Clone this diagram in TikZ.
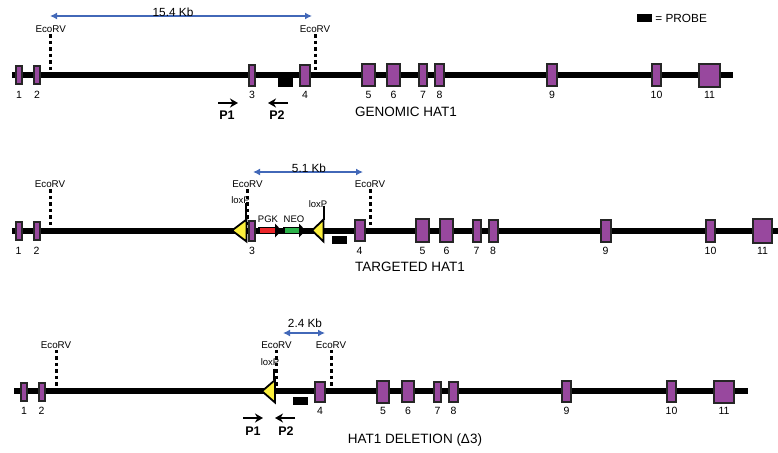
\documentclass[tikz,border=0pt]{standalone}
\usepackage{fontspec}
\setmainfont{Liberation Sans}
\usetikzlibrary{arrows.meta,positioning}
\definecolor{exonpurple}{RGB}{152,72,158}
\definecolor{kbblue}{RGB}{66,104,184}
\definecolor{loxyellow}{RGB}{252,240,60}
\definecolor{pgkred}{RGB}{236,38,42}
\definecolor{neogreen}{RGB}{44,178,74}
\tikzset{
  exon/.style={draw=black!85,line width=2pt,fill=exonpurple,inner sep=0pt},
  exnum/.style={inner sep=0pt,font=\fontsize{10.5}{12}\selectfont},
  dna/.style={line width=6pt},
  ecorv/.style={line width=3pt,dash pattern=on 3.5pt off 3pt},
  ecolab/.style={inner sep=0pt,font=\fontsize{9.8}{11}\selectfont},
  kb/.style={kbblue,line width=1.4pt,{Latex[length=7pt,width=7pt]}-{Latex[length=7pt,width=7pt]}},
  kblab/.style={inner sep=0pt,font=\fontsize{11.8}{13}\selectfont},
  primer/.style={line width=2.2pt,-{Stealth[length=8pt,width=9pt,inset=2.5pt]}},
  primlab/.style={inner sep=0pt,font=\fontsize{12.5}{14}\selectfont\bfseries},
  probe/.style={fill=black,inner sep=0pt,minimum width=15pt,minimum height=8pt},
  lox/.style={draw=black,line width=1.8pt,fill=loxyellow,line join=miter},
  loxtick/.style={line width=2pt},
  loxlab/.style={inner sep=0pt,font=\fontsize{9.5}{11}\selectfont},
  cassette/.style={draw=black,line width=1.2pt},
  rowtitle/.style={inner sep=0pt,font=\fontsize{13.5}{15}\selectfont},
}
\begin{document}
\begin{tikzpicture}[x=1pt,y=-1pt]
\useasboundingbox (0,0) rectangle (778,452);

\node[probe] (key) at (644.5,18) {};
\node[kblab,right=3pt of key] (keylab) {= PROBE};

\coordinate (gL) at (12,75);
\coordinate (gR) at (733,75);
\draw[dna] (gL) -- (gR);
\foreach \x [count=\i] in {50.7,315}
{
  \node[ecolab] (ge\i) at (\x,29.5) {EcoRV};
  \draw[ecorv] ([yshift=-1pt]ge\i.south) -- (\x,72);
}
\foreach \n/\x/\w/\h in {1/19/8/20,2/37/8/20,3/252/8/23,4/305/12/23,5/368.5/15/24,6/393.5/15/24,7/423/10/24,8/439.5/11/24,9/552/12/24,10/656.5/11/24,11/709.5/23/25}
{
  \node[exon,minimum width=\w-2,minimum height=\h-2] (g\n) at (\x,75) {};
  \node[exnum] (gn\n) at (\x,94.5) {\n};
}
\node[probe,minimum height=11pt] (gpr) at (285.5,81.5) {};
\coordinate (gk1) at (50,16);
\coordinate (gk2) at (312,16);
\draw[kb] (gk1) -- (gk2);
\node[kblab,anchor=base] (gkb) at (173,16.5) {15.4 Kb};
\coordinate (gp1a) at (218,103);
\coordinate (gp1b) at (238,103);
\coordinate (gp2a) at (288,103);
\coordinate (gp2b) at (268,103);
\draw[primer] (gp1a) -- (gp1b);
\draw[primer] (gp2a) -- (gp2b);
\node[primlab] (gP1) at (227,115) {P1};
\node[primlab] (gP2) at (277,115) {P2};
\node[rowtitle] (gtitle) at (406,112) {GENOMIC HAT1};

\coordinate (tL) at (12,230.5);
\coordinate (tR) at (778,230.5);
\draw[dna] (tL) -- (tR);
\foreach \x [count=\i] in {50,247.5,370}
{
  \node[ecolab] (te\i) at (\x,183.7) {EcoRV};
  \draw[ecorv] ([yshift=-2pt]te\i.south) -- (\x,227);
}
\draw[lox] (246.5,219.5) -- (246.5,241.5) -- (232,230.5) -- cycle;
\draw[lox] (323.5,219.5) -- (323.5,241.5) -- (312,230.5) -- cycle;
\foreach \n/\x/\w/\h in {1/18.5/8/20,2/36.5/8/20,3/252/8/22,4/359.5/12/23,5/422.5/15/25,6/446.5/15/25,7/476.5/10/24,8/493/11/24,9/605.5/12/24,10/710.5/11/24,11/762.5/21/26}
{
  \node[exon,minimum width=\w-2,minimum height=\h-2] (t\n) at (\x,230.5) {};
  \node[exnum] (tn\n) at (\x,250.5) {\n};
}
\draw[cassette,fill=pgkred] (259,227.5) rectangle (275.5,233.5);
\fill (275,223.5) -- (281.5,230.5) -- (275,237.5) -- cycle;
\draw[cassette,fill=neogreen] (284,227.5) rectangle (299.5,233.5);
\fill (299,223.5) -- (305.5,230.5) -- (299,237.5) -- cycle;
\node[loxlab] (pgk) at (268,219.5) {PGK};
\node[loxlab] (neo) at (294,219.5) {NEO};
\node[loxlab,anchor=base] (tlx1) at (240.5,203.5) {loxP};
\node[loxlab,anchor=base] (tlx2) at (318,207) {loxP};
\draw[loxtick] (245.5,203) -- (245.5,220);
\draw[loxtick] (324,205.5) -- (324,220);
\node[probe] (tpr) at (339.5,239.5) {};
\coordinate (tk1) at (253,172);
\coordinate (tk2) at (363,172);
\draw[kb] (tk1) -- (tk2);
\node[kblab,anchor=base] (tkb) at (309,172.5) {5.1 Kb};
\node[rowtitle] (ttitle) at (410,267) {TARGETED HAT1};

\coordinate (dL) at (14,391);
\coordinate (dR) at (748,391);
\draw[dna] (dL) -- (dR);
\foreach \x [count=\i] in {56,276.5,331}
{
  \node[ecolab] (de\i) at (\x,344.7) {EcoRV};
  \draw[ecorv] ([yshift=-1.5pt]de\i.south) -- (\x,388);
}
\draw[lox] (275,380) -- (275,402.5) -- (262,391.2) -- cycle;
\foreach \n/\x/\w/\h in {1/24/8/20,2/41.5/8/20,4/320/12/22,5/383/14/24,6/408/14/23,7/437.5/9/22,8/453.5/11/22,9/566.5/11/23,10/671.5/11/23,11/724/22/24}
{
  \node[exon,minimum width=\w-2,minimum height=\h-2] (d\n) at (\x,391.5) {};
  \node[exnum] (dn\n) at (\x,411) {\n};
}
\node[loxlab,anchor=base] (dlx) at (270,365) {loxP};
\draw[loxtick] (274,368.5) -- (274,380);
\node[probe] (dpr) at (300.5,401) {};
\coordinate (dk1) at (283,333);
\coordinate (dk2) at (325,333);
\draw[kb] (dk1) -- (dk2);
\node[kblab,anchor=base] (dkb) at (305,327) {2.4 Kb};
\coordinate (dp1a) at (243,418);
\coordinate (dp1b) at (263,418);
\coordinate (dp2a) at (295,418);
\coordinate (dp2b) at (275,418);
\draw[primer] (dp1a) -- (dp1b);
\draw[primer] (dp2a) -- (dp2b);
\node[primlab] (dP1) at (253,431) {P1};
\node[primlab] (dP2) at (286,431) {P2};
\node[rowtitle] (dtitle) at (415,440) {HAT1 DELETION (Δ3)};
\end{tikzpicture}
\end{document}
